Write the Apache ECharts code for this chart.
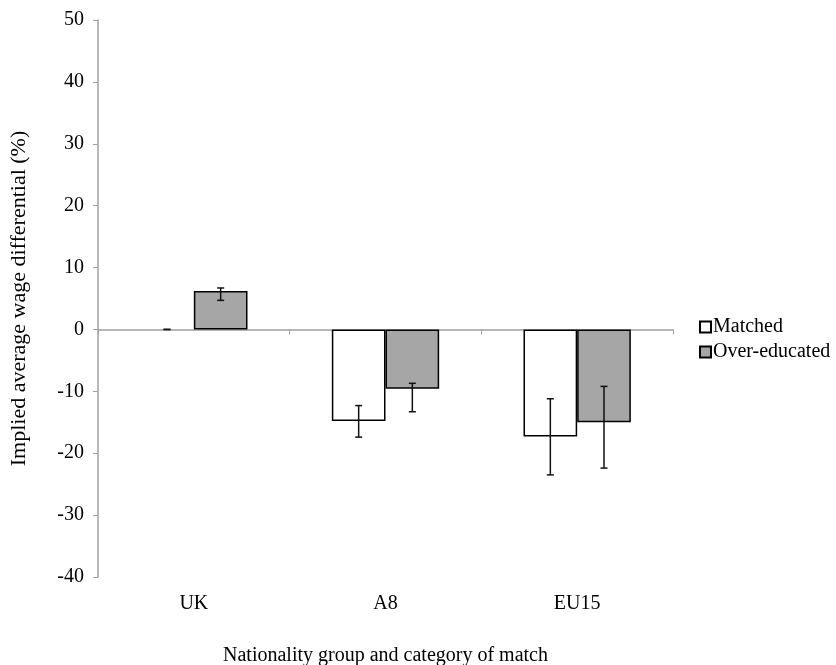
<!DOCTYPE html>
<html><head><meta charset="utf-8">
<script src="https://cdn.jsdelivr.net/npm/echarts@6/dist/echarts.min.js"></script>
<style>html,body{margin:0;padding:0;background:#fff}#c{width:836px;height:665px}</style>
</head><body><div id="c"></div>
<script>
var categories = ['UK', 'A8', 'EU15'];
var matched = [0, -14.8, -17.3];
var matchedLow = [0, -17.4, -23.5];
var matchedHigh = [0, -12.3, -11.2];
var overEducated = [6.2, -9.6, -15.0];
var overLow = [4.7, -13.3, -22.4];
var overHigh = [6.7, -8.7, -9.2];
var yTicks = [-40, -30, -20, -10, 0, 10, 20, 30, 40, 50];

var FONT = '"Liberation Serif", "Times New Roman", serif';
var FS = 20;
var GAP = 0.44;

function errData(low, high) {
  return categories.map(function (c, i) { return [i, low[i], high[i]]; });
}
function errSeries(low, high, side) {
  return {
    type: 'custom', xAxisIndex: 0, silent: true, z: 10,
    data: errData(low, high),
    renderItem: function (params, api) {
      var idx = api.value(0);
      var catW = api.size([1, 0])[0];
      var barW = catW * (1 - GAP) / 2;
      var lo = api.coord([idx, api.value(1)]);
      var hi = api.coord([idx, api.value(2)]);
      var x = lo[0] + side * barW / 2;
      var cap = 3.5;
      var st = { stroke: '#111', lineWidth: 1.5 };
      return { type: 'group', children: [
        { type: 'line', shape: { x1: x, y1: lo[1], x2: x, y2: hi[1] }, style: st },
        { type: 'line', shape: { x1: x - cap, y1: lo[1], x2: x + cap, y2: lo[1] }, style: st },
        { type: 'line', shape: { x1: x - cap, y1: hi[1], x2: x + cap, y2: hi[1] }, style: st }
      ]};
    }
  };
}
function barData(vals) {
  return vals.map(function (v) {
    return v === 0 ? { value: v, itemStyle: { borderWidth: 0 } } : v;
  });
}

var chart = echarts.init(document.getElementById('c'));
chart.setOption({
  animation: false,
  textStyle: { fontFamily: FONT },
  grid: { left: 98, right: 163, top: 20, bottom: 88, containLabel: false, outerBoundsMode: 'none' },
  legend: {
    orient: 'vertical', left: 694, top: 312, itemGap: 5,
    itemWidth: 11, itemHeight: 11, icon: 'rect',
    textStyle: { fontFamily: FONT, fontSize: FS, color: '#000', padding: [0, 0, 0, -3] },
    data: ['Matched', 'Over-educated']
  },
  xAxis: [
    {
      type: 'category', data: categories, position: 'bottom',
      axisLine: { show: false, onZero: false }, axisTick: { show: false },
      axisLabel: { fontFamily: FONT, fontSize: FS, color: '#000', margin: 17 },
      name: 'Nationality group and category of match', nameLocation: 'middle', nameGap: 69,
      nameTextStyle: { fontFamily: FONT, fontSize: FS, color: '#000' }
    },
    {
      type: 'category', data: categories, position: 'bottom',
      axisLine: { show: true, onZero: true, lineStyle: { color: '#a0a0a0', width: 1.5 } },
      axisTick: { show: true, length: 5, lineStyle: { color: '#a0a0a0' } },
      axisLabel: { show: false }
    }
  ],
  yAxis: {
    type: 'value', min: -40, max: 50, interval: 10,
    axisLine: { show: true, lineStyle: { color: '#a0a0a0', width: 1.5 } },
    axisTick: { show: true, length: 5, lineStyle: { color: '#a0a0a0' } },
    splitLine: { show: false },
    axisLabel: { fontFamily: FONT, fontSize: FS, color: '#000', margin: 14,
      formatter: function (v) { return yTicks.indexOf(v) >= 0 ? String(v) : ''; } },
    name: 'Implied average wage differential (%)', nameLocation: 'middle', nameGap: 68,
    nameTextStyle: { fontFamily: FONT, fontSize: 22, color: '#000' }
  },
  series: [
    { name: 'Matched', type: 'bar', xAxisIndex: 0, data: barData(matched), barGap: '0%', barCategoryGap: (GAP * 100) + '%',
      itemStyle: { color: '#ffffff', borderColor: '#000', borderWidth: 1.5 } },
    { name: 'Over-educated', type: 'bar', xAxisIndex: 0, data: barData(overEducated), barGap: '0%', barCategoryGap: (GAP * 100) + '%',
      itemStyle: { color: '#a6a6a6', borderColor: '#000', borderWidth: 1.5 } },
    errSeries(matchedLow, matchedHigh, -1),
    errSeries(overLow, overHigh, 1)
  ]
});
</script>
</body></html>
